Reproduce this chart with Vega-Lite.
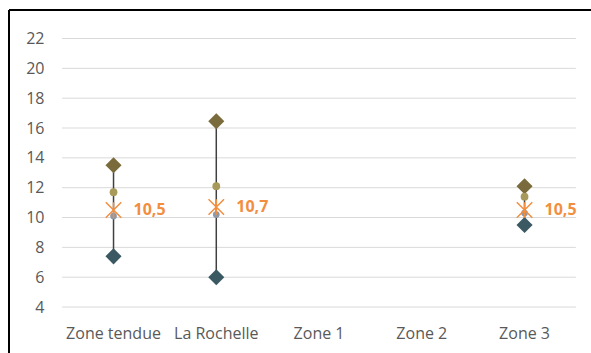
{
  "$schema": "https://vega.github.io/schema/vega-lite/v6.json",
  "width": 582,
  "height": 343,
  "autosize": {"type": "none"},
  "padding": {"left": 9, "top": 10, "right": 0, "bottom": 0},
  "background": "#ffffff",
  "config": {"view": {"stroke": null}, "font": "Open Sans"},
  "datasets": {
    "zones": [
      {"zone": "Zone tendue", "max": 13.5, "min": 7.4, "moy": 11.7, "q": 10.1, "med": 10.5, "lab": "10,5"},
      {"zone": "La Rochelle", "max": 16.45, "min": 6.0, "moy": 12.1, "q": 10.2, "med": 10.7, "lab": "10,7"},
      {"zone": "Zone 3", "max": 12.1, "min": 9.5, "moy": 11.4, "q": 10.3, "med": 10.5, "lab": "10,5"}
    ],
    "grid": [{"g": 4}, {"g": 6}, {"g": 8}, {"g": 10}, {"g": 12}, {"g": 14}, {"g": 16}, {"g": 18}, {"g": 20}, {"g": 22}]
  },
  "encoding": {
    "y": {"type": "quantitative", "scale": {"domain": [0.92, 23.91], "nice": false, "zero": false},
      "axis": {"orient": "left", "title": null, "domain": false, "ticks": false, "grid": false, "values": [4, 6, 8, 10, 12, 14, 16, 18, 20, 22], "offset": -37, "labelPadding": 2, "labelFont": "Open Sans", "labelFontSize": 16, "labelColor": "#595959"}}
  },
  "layer": [
    {
      "layer": [
        {
          "data": {"name": "grid"},
          "mark": {"type": "rule", "color": "#d9d9d9", "strokeWidth": 1},
          "encoding": {
            "x": {"datum": 0.5, "type": "quantitative", "scale": {"domain": [-0.017, 5.647], "nice": false, "zero": false}, "axis": null},
            "x2": {"datum": 5.5},
            "y": {"field": "g", "type": "quantitative"}
          }
        },
        {
          "data": {"values": [{}]},
          "mark": {"type": "rule", "color": "#000000", "strokeWidth": 2},
          "encoding": {
            "x": {"datum": -0.017, "type": "quantitative", "scale": {"domain": [-0.017, 5.647], "nice": false, "zero": false}, "axis": null},
            "y": {"datum": 0.92, "type": "quantitative"},
            "y2": {"datum": 23.91}
          }
        },
        {
          "data": {"values": [{}]},
          "mark": {"type": "rule", "color": "#000000", "strokeWidth": 2},
          "encoding": {
            "x": {"datum": -0.017, "type": "quantitative", "scale": {"domain": [-0.017, 5.647], "nice": false, "zero": false}, "axis": null},
            "x2": {"datum": 5.647},
            "y": {"datum": 23.91, "type": "quantitative"}
          }
        }
      ]
    },
    {
      "data": {"name": "zones"},
      "encoding": {
        "x": {
          "field": "zone",
          "type": "nominal",
          "sort": null,
          "scale": {"domain": ["Zone tendue", "La Rochelle", "Zone 1", "Zone 2", "Zone 3"], "paddingInner": 0, "paddingOuter": 0.332, "align": 0.779},
          "axis": {"orient": "bottom", "title": null, "domain": false, "ticks": false, "grid": false, "labelAngle": 0, "offset": -20, "labelPadding": 0, "labelBaseline": "middle", "labelFont": "Open Sans", "labelFontSize": 16, "labelColor": "#595959", "labelOverlap": false}
        }
      },
      "layer": [
        {
          "mark": {"type": "rule", "color": "#404040", "strokeWidth": 1.5},
          "encoding": {
            "y": {"field": "min", "type": "quantitative"},
            "y2": {"field": "max"}
          }
        },
        {
          "mark": {"type": "point", "shape": "diamond", "filled": true, "opacity": 1, "size": 260, "color": "#3b5963"},
          "encoding": {"y": {"field": "min", "type": "quantitative"}}
        },
        {
          "mark": {"type": "point", "shape": "diamond", "filled": true, "opacity": 1, "size": 260, "color": "#7a6b3c"},
          "encoding": {"y": {"field": "max", "type": "quantitative"}}
        },
        {
          "mark": {"type": "point", "shape": "circle", "filled": true, "opacity": 1, "size": 60, "color": "#a89a5a"},
          "encoding": {"y": {"field": "moy", "type": "quantitative"}}
        },
        {
          "mark": {"type": "point", "shape": "circle", "filled": true, "opacity": 1, "size": 45, "color": "#8e98a6"},
          "encoding": {"y": {"field": "q", "type": "quantitative"}}
        },
        {
          "mark": {"type": "point", "shape": "M-1,-1L1,1M-1,1L1,-1M0,-1L0,1", "filled": false, "opacity": 1, "size": 240, "color": "#f28e3f", "strokeWidth": 1.5},
          "encoding": {"y": {"field": "med", "type": "quantitative"}}
        },
        {
          "mark": {"type": "text", "align": "left", "baseline": "middle", "dx": 20, "font": "Open Sans", "fontSize": 16, "fontWeight": "bold", "color": "#f28e3f"},
          "encoding": {"y": {"field": "med", "type": "quantitative"}, "text": {"field": "lab"}}
        }
      ]
    }
  ],
  "resolve": {"scale": {"x": "independent"}}
}
